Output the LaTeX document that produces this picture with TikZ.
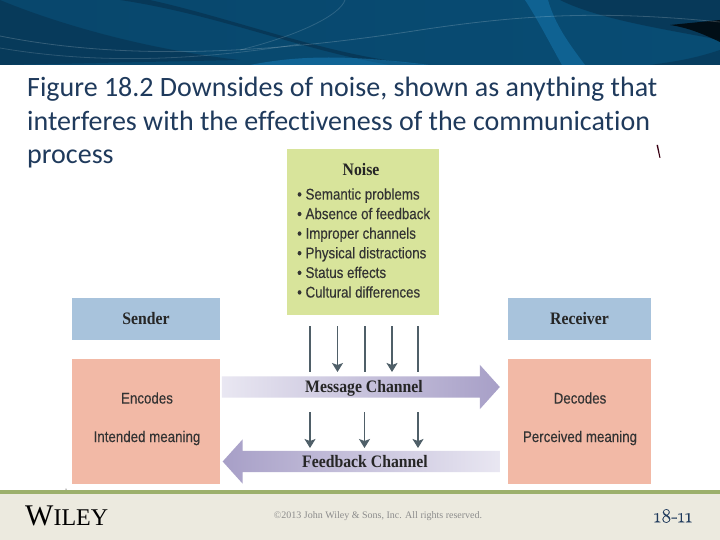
\documentclass[tikz,border=0pt]{standalone}
\usepackage{fontspec}
\setmainfont{Liberation Serif}
\newfontfamily\titlefont[Ligatures=NoCommon]{Carlito}
\newfontfamily\pagefont[Numbers=OldStyle,FakeBold=0.3]{Latin Modern Roman}
\newfontfamily\boxfont[FakeStretch=0.86,FakeBold=0.25]{Liberation Sans}
\newfontfamily\headfont[FakeStretch=0.9]{Liberation Serif}
\usetikzlibrary{arrows.meta,shapes.arrows}
\definecolor{bannerdark}{HTML}{07324F}
\definecolor{bannermid}{HTML}{0A6698}
\definecolor{bannerlight}{HTML}{1A86C4}
\definecolor{titleblue}{HTML}{1F3A5C}
\definecolor{noisegreen}{HTML}{D8E49B}
\definecolor{senderblue}{HTML}{A8C3DC}
\definecolor{codepink}{HTML}{F2B9A6}
\definecolor{chanpale}{HTML}{E9E7F2}
\definecolor{chandeep}{HTML}{A79FC7}
\definecolor{noisegray}{HTML}{4F5F68}
\definecolor{footband}{HTML}{9CB06C}
\definecolor{footback}{HTML}{ECEADF}
\tikzset{
    headbox/.style={minimum width=148pt, minimum height=42pt, inner sep=0pt, font=\headfont\bfseries\fontsize{17.5}{19}\selectfont, text=black!85},
    codebox/.style={minimum width=148pt, minimum height=125pt, inner sep=0pt},
    codetext/.style={inner sep=0pt, font=\boxfont\fontsize{15.5}{18}\selectfont, text=black!80},
    channel/.style={single arrow, minimum height=278pt, text height=9pt, text depth=3pt, inner ysep=4.5pt, inner xsep=0pt, single arrow head extend=11.5pt, single arrow tip angle=96},
    chantext/.style={inner sep=0pt, font=\headfont\bfseries\fontsize{17.5}{19}\selectfont, text=black!85},
    noisearrow/.style={draw=noisegray, line width=1.1pt, -{Stealth[length=9pt, width=11pt, inset=2pt]}},
    noiseline/.style={draw=noisegray, line width=1.1pt}
}
\begin{document}
\begin{tikzpicture}[x=1pt, y=-1pt]
    \useasboundingbox (0,0) rectangle (720,540);
    \fill[white] (0,0) rectangle (720,540);

    \begin{scope}
        \clip (0,0) rectangle (720,65);
        \shade[left color=bannerdark!60!bannermid, middle color=bannermid, right color=bannerdark!50!bannermid] (0,0) rectangle (720,65);
        \fill[bannerdark, opacity=0.6] (0,0) .. controls (60,25) and (150,50) .. (240,60) -- (0,65) -- cycle;
        \fill[bannerdark, opacity=0.7] (150,0) .. controls (240,20) and (340,60) .. (430,65) -- (390,65) .. controls (300,50) and (220,15) .. (120,0) -- cycle;
        \fill[bannerdark, opacity=0.7] (560,0) .. controls (600,20) and (670,30) .. (720,40) -- (720,0) -- cycle;
        \fill[black, opacity=0.75] (670,25) .. controls (690,28) and (705,35) .. (720,42) -- (720,20) -- cycle;
        \fill[bannerdark, opacity=0.55] (720,50) .. controls (690,60) and (670,62) .. (650,65) -- (720,65) -- cycle;
        \fill[bannerlight, opacity=0.4] (525,0) -- (548,0) .. controls (555,25) and (570,45) .. (585,65) -- (562,65) .. controls (548,40) and (538,20) .. (525,0) -- cycle;
        \fill[bannerlight, opacity=0.45] (250,65) .. controls (300,55) and (350,55) .. (430,65) -- cycle;
        \draw[white, opacity=0.18, line width=0.8pt] (0,36) .. controls (120,60) and (260,55) .. (420,30) .. controls (520,15) and (600,10) .. (720,22);
        \draw[white, opacity=0.15, line width=0.8pt] (240,50) .. controls (300,35) and (340,15) .. (345,0);
        \draw[white, opacity=0.15, line width=0.8pt] (0,48) .. controls (100,65) and (200,60) .. (300,44);
    \end{scope}

    \node[anchor=north west, inner sep=0pt, align=left, text=titleblue, font=\titlefont\fontsize{28}{33.4}\selectfont] (figtitle) at (27,77) {Figure 18.2 Downsides of noise, shown as anything that\\interferes with the effectiveness of the communication\\process};

    \fill[black!70!purple] (656.5,145) -- (658,145) -- (660.5,158) -- (659.5,158) -- cycle;

    \node[fill=noisegreen, minimum width=152pt, minimum height=166pt, inner sep=0pt] (noise) at (363,232) {};
    \node[chantext] (noisetitle) at (361,170) {Noise};
    \node[anchor=west, inner sep=0pt, align=left, text=black!80, font=\boxfont\fontsize{15.5}{19.6}\selectfont] (noiselist) at (297,243) {\textbullet\ Semantic problems\\\textbullet\ Absence of feedback\\\textbullet\ Improper channels\\\textbullet\ Physical distractions\\\textbullet\ Status effects\\\textbullet\ Cultural differences};

    \node[headbox, fill=senderblue] (sender) at (146,319) {Sender};
    \node[codebox, fill=codepink] (encodes) at (146,421.5) {};
    \node[codetext] (encodestext) at (147,398) {Encodes};
    \node[codetext] (intended) at (147,438) {Intended meaning};

    \node[headbox, fill=senderblue, minimum width=143pt] (receiver) at (579.5,319) {Receiver};
    \node[codebox, fill=codepink, minimum width=143pt] (decodes) at (579.5,421.5) {};
    \node[codetext] (decodestext) at (580,398) {Decodes};
    \node[codetext] (perceived) at (580,438) {Perceived meaning};

    \node[channel, left color=chanpale, right color=chandeep] (message) at (356,387) {};
    \node[chantext] (messagetext) at (364,388) {Message Channel};
    \node[channel, shape border rotate=180, left color=chandeep, right color=chanpale] (feedback) at (366.5,461.5) {};
    \node[chantext] (feedbacktext) at (365,462) {Feedback Channel};

    \coordinate (msgtopa) at (310,326);
    \coordinate (msgtopb) at (337.5,326);
    \coordinate (msgtopc) at (365,326);
    \coordinate (msgtopd) at (392,326);
    \coordinate (msgtope) at (418,326);
    \coordinate (msgenda) at (310,372);
    \coordinate (msgendb) at (337.5,372);
    \coordinate (msgendc) at (365,372);
    \coordinate (msgendd) at (392,372);
    \coordinate (msgende) at (418,372);
    \coordinate (fbtopa) at (310,412);
    \coordinate (fbtopb) at (364.5,412);
    \coordinate (fbtopc) at (418,412);
    \coordinate (fbenda) at (310,448);
    \coordinate (fbendb) at (364.5,448);
    \coordinate (fbendc) at (418,448);

    \draw[noiseline] (msgtopa) -- (msgenda);
    \draw[noisearrow] (msgtopb) -- (msgendb);
    \draw[noiseline] (msgtopc) -- (msgendc);
    \draw[noisearrow] (msgtopd) -- (msgendd);
    \draw[noiseline] (msgtope) -- (msgende);
    \draw[noisearrow] (fbtopa) -- (fbenda);
    \draw[noisearrow] (fbtopb) -- (fbendb);
    \draw[noisearrow] (fbtopc) -- (fbendc);

    \fill[black] (66,489) circle (0.5pt);

    \fill[footback] (0,493) rectangle (720,540);
    \fill[footband] (0,490) rectangle (720,494);

    \node[anchor=base west, inner sep=0pt, text=black] (wiley) at (25,525) {\fontsize{30}{30}\selectfont W\fontsize{24}{24}\selectfont ILEY};
    \node[inner sep=0pt, text=black!45, font=\fontsize{10}{11}\selectfont] (copyright) at (378,516) {©2013 John Wiley \& Sons, Inc. All rights reserved.};
    \node[inner sep=0pt, text=titleblue, font=\pagefont\fontsize{20}{22}\selectfont] (pagenum) at (673,516) {18-11};
\end{tikzpicture}
\end{document}
